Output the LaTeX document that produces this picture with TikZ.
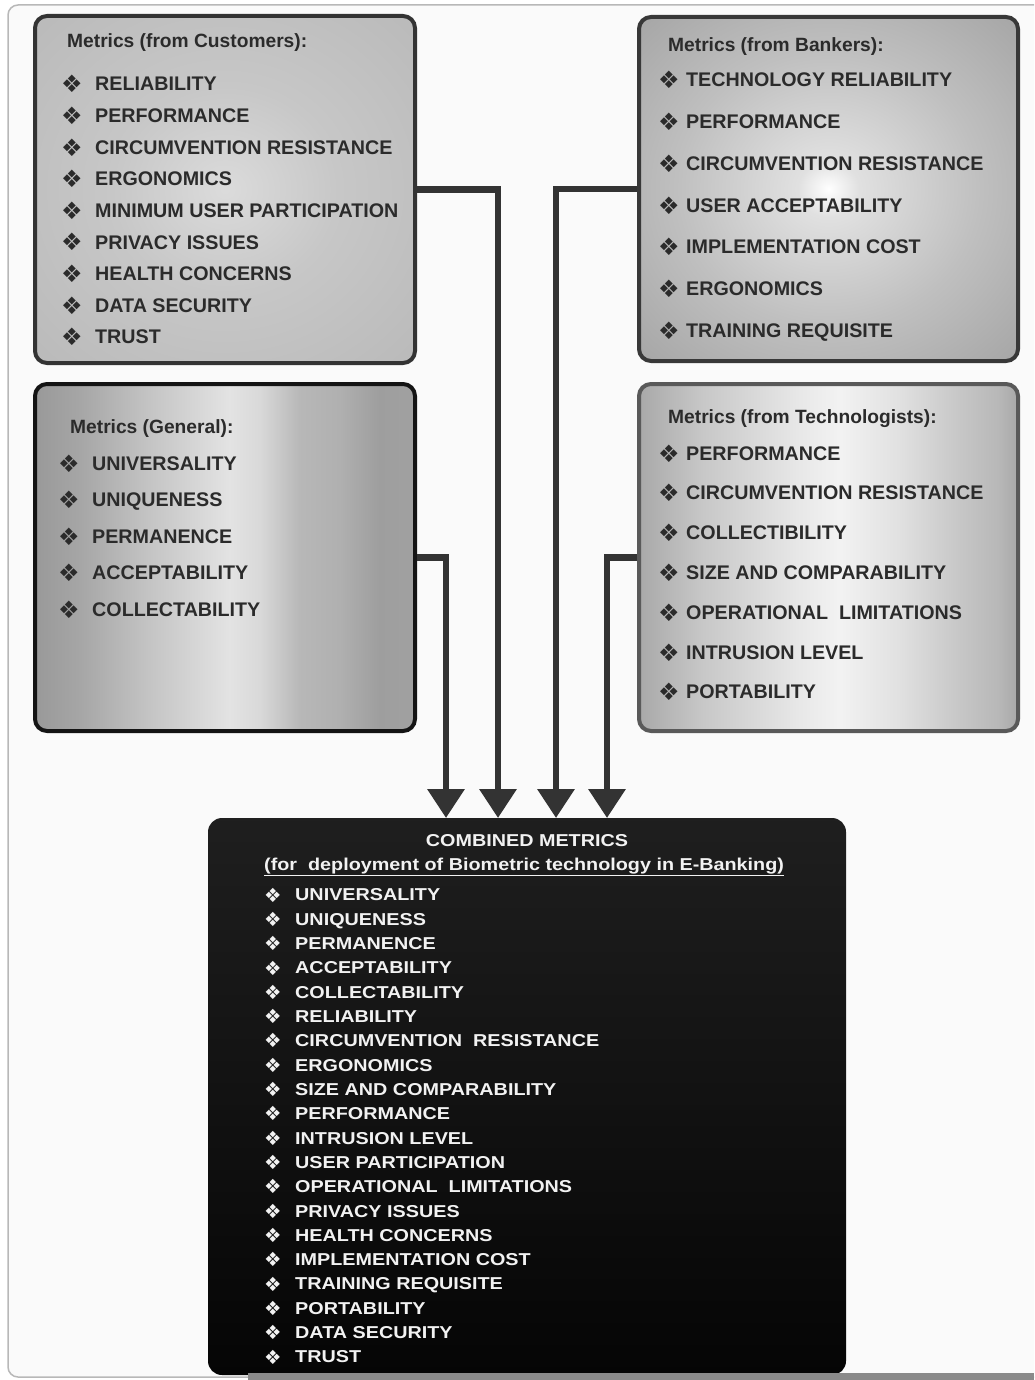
\documentclass[tikz,border=0pt]{standalone}
\usepackage{fontspec}
\setmainfont{Liberation Sans}
\newfontfamily\symf{DejaVu Sans}
\newfontfamily\widef[FakeStretch=1.15]{Liberation Sans}
\usetikzlibrary{arrows.meta}
\definecolor{txt}{HTML}{2B2B2B}
\definecolor{arrc}{HTML}{333333}
\definecolor{framec}{HTML}{B8B8B8}
\definecolor{framef}{HTML}{FAFAFA}
\definecolor{barc}{HTML}{8A8A8A}
\definecolor{wtxt}{HTML}{F2F2F2}
\pgfdeclarehorizontalshading{mlshade}{100bp}{color(0bp)=(black!40); color(25bp)=(black!40); color(30.9bp)=(black!35); color(40.1bp)=(black!23); color(50.6bp)=(black!11); color(54.6bp)=(black!15); color(59.8bp)=(black!28); color(65bp)=(black!31); color(70.3bp)=(black!38); color(75bp)=(black!37); color(100bp)=(black!37)}
\pgfdeclarehorizontalshading{mrshade}{100bp}{color(0bp)=(black!34); color(25bp)=(black!34); color(33.2bp)=(black!22); color(46.3bp)=(black!9); color(51.5bp)=(black!5); color(59.4bp)=(black!12); color(67.2bp)=(black!22); color(72.4bp)=(black!28); color(75bp)=(black!34); color(100bp)=(black!34)}
\pgfdeclareradialshading{trshade}{\pgfpoint{0bp}{0bp}}{color(0bp)=(white); color(4bp)=(black!12); color(20bp)=(black!25); color(40bp)=(black!38); color(50bp)=(black!42)}
\pgfdeclareradialshading{tlshade}{\pgfpoint{0bp}{0bp}}{color(0bp)=(black!14); color(15bp)=(black!22); color(35bp)=(black!27); color(50bp)=(black!30)}
\pgfdeclareverticalshading{blkshade}{100bp}{color(0bp)=(black!98); color(25bp)=(black!98); color(75bp)=(black!88); color(100bp)=(black!88)}
\tikzset{
  mbox/.style={draw, line width=4, rounded corners=12, inner sep=0},
  hdr/.style={anchor=base west, inner sep=0, text=txt, font=\bfseries\fontsize{19.2}{20}\selectfont},
  itm/.style={anchor=base west, inner sep=0, text=txt, font=\bfseries\fontsize{19.7}{20}\selectfont},
  bul/.style={anchor=base west, inner sep=0, text=txt, font=\symf\fontsize{24}{24}\selectfont},
  witm/.style={anchor=base west, inner sep=0, text=wtxt, font=\widef\bfseries\fontsize{17.2}{18}\selectfont},
  wbul/.style={anchor=base west, inner sep=0, text=wtxt, font=\symf\fontsize{19.5}{19.5}\selectfont},
  arr/.style={draw=arrc, line width=6.5, -{Triangle[width=36,length=29]}}
}
\begin{document}
\begin{tikzpicture}[x=1pt,y=-1pt]
\useasboundingbox (0,0) rectangle (1034,1380);
\clip (0,0) rectangle (1034,1380);
% outer frame
\path[draw=framec, fill=framef, line width=1.5, rounded corners=10] (8,5) rectangle (1060,1377);

% boxes
\node[mbox, draw=black!80, shading=tlshade, minimum width=380, minimum height=347] (cust) at (225,189.5) {};
\node[mbox, draw=black!78, shading=trshade, minimum width=379, minimum height=344] (bank) at (828.5,189) {};
\node[mbox, draw=black!92, shading=mlshade, minimum width=380, minimum height=347] (gen) at (225,557.5) {};
\node[mbox, draw=black!65, shading=mrshade, minimum width=379, minimum height=347] (tech) at (828.5,557.5) {};
\node[rounded corners=14, inner sep=0, shading=blkshade, minimum width=638, minimum height=557] (comb) at (527,1096.5) {};

% arrow targets on the combined box
\coordinate (in1) at (446,818);
\coordinate (in2) at (498,818);
\coordinate (in3) at (556,818);
\coordinate (in4) at (607,818);
\draw[arr] (cust.east) -| (in2);
\draw[arr] (gen.east) -| (in1);
\draw[arr] (bank.west) -| (in3);
\draw[arr] (tech.west) -| (in4);

% Customers
\node[hdr] (custh) at (67,48) {Metrics (from Customers):};
\foreach \t [count=\i] in {RELIABILITY, PERFORMANCE, CIRCUMVENTION RESISTANCE, ERGONOMICS, MINIMUM USER PARTICIPATION, PRIVACY ISSUES, HEALTH CONCERNS, DATA SECURITY, TRUST}{
  \node[bul] (custb\i) at (61,{93+31.6*(\i-1)}) {❖};
  \node[itm] (custt\i) at (95,{91+31.6*(\i-1)}) {\t};
}
% Bankers
\node[hdr] (bankh) at (668,52) {Metrics (from Bankers):};
\foreach \t [count=\i] in {TECHNOLOGY RELIABILITY, PERFORMANCE, CIRCUMVENTION RESISTANCE, USER ACCEPTABILITY, IMPLEMENTATION COST, ERGONOMICS, TRAINING REQUISITE}{
  \node[bul] (bankb\i) at (658,{89+41.67*(\i-1)}) {❖};
  \node[itm] (bankt\i) at (686,{87+41.67*(\i-1)}) {\t};
}
% General
\node[hdr] (genh) at (70,433) {Metrics (General):};
\foreach \t [count=\i] in {UNIVERSALITY, UNIQUENESS, PERMANENCE, ACCEPTABILITY, COLLECTABILITY}{
  \node[bul] (genb\i) at (58,{472+36.6*(\i-1)}) {❖};
  \node[itm] (gent\i) at (92,{470+36.6*(\i-1)}) {\t};
}
% Technologists
\node[hdr] (techh) at (668,423) {Metrics (from Technologists):};
\foreach \t [count=\i] in {PERFORMANCE, CIRCUMVENTION RESISTANCE, COLLECTIBILITY, SIZE AND COMPARABILITY, OPERATIONAL\ \ LIMITATIONS, INTRUSION LEVEL, PORTABILITY}{
  \node[bul] (techb\i) at (658,{462+39.8*(\i-1)}) {❖};
  \node[itm] (techt\i) at (686,{460+39.8*(\i-1)}) {\t};
}
% Combined
\node[witm, anchor=base] (combh) at (527,846) {COMBINED METRICS};
\node[witm] (combs) at (264,870) {\underline{(for\ \ deployment of Biometric technology in E-Banking)}};
\foreach \t [count=\i] in {UNIVERSALITY, UNIQUENESS, PERMANENCE, ACCEPTABILITY, COLLECTABILITY, RELIABILITY, CIRCUMVENTION\ \ RESISTANCE, ERGONOMICS, SIZE AND COMPARABILITY, PERFORMANCE, INTRUSION LEVEL, USER PARTICIPATION, OPERATIONAL\ \ LIMITATIONS, PRIVACY ISSUES, HEALTH CONCERNS, IMPLEMENTATION COST, TRAINING REQUISITE, PORTABILITY, DATA SECURITY, TRUST}{
  \node[wbul] (combb\i) at (264,{902+24.33*(\i-1)}) {❖};
  \node[witm] (combt\i) at (295,{900.7+24.33*(\i-1)}) {\t};
}
% bottom shadow bar
\fill[barc] (248,1373) rectangle (1034,1380);
\end{tikzpicture}
\end{document}
